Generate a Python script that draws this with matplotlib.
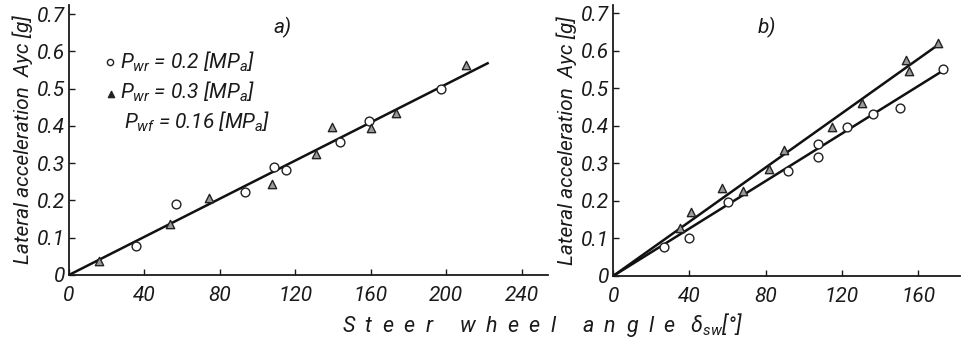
import matplotlib
matplotlib.use("Agg")
import matplotlib.pyplot as plt

# ---------------- data ----------------
a_circle_x = [35.5, 56.7, 93.6, 108.6, 115.3, 143.6, 159.0, 197.5]
a_circle_y = [0.078, 0.190, 0.223, 0.290, 0.281, 0.356, 0.414, 0.498]
a_tri_x = [15.9, 53.5, 74.2, 107.7, 130.9, 139.7, 160.0, 173.6, 210.3]
a_tri_y = [0.038, 0.137, 0.207, 0.243, 0.324, 0.396, 0.393, 0.434, 0.563]
a_line_x = [0, 222]
a_line_y = [0, 0.568]

b_circle_x = [26.9, 40.0, 60.5, 91.9, 107.3, 107.3, 122.5, 136.5, 150.5, 172.8]
b_circle_y = [0.078, 0.102, 0.196, 0.281, 0.352, 0.316, 0.397, 0.432, 0.449, 0.551]
b_tri_x = [35.1, 40.9, 57.1, 68.3, 81.8, 89.8, 115.0, 130.5, 153.4, 155.3, 170.7]
b_tri_y = [0.127, 0.170, 0.234, 0.227, 0.285, 0.336, 0.398, 0.462, 0.576, 0.547, 0.622]
b_line_tri_x = [0, 171]
b_line_tri_y = [0, 0.618]
b_line_circ_x = [0, 172.3]
b_line_circ_y = [0, 0.545]

y_ticks = [0, 0.1, 0.2, 0.3, 0.4, 0.5, 0.6, 0.7]
y_tick_labels = ["0", "0.1", "0.2", "0.3", "0.4", "0.5", "0.6", "0.7"]
a_x_ticks = [0, 40, 80, 120, 160, 200, 240]
b_x_ticks = [0, 40, 80, 120, 160]

# ---------------- fonts ----------------
fam = "Roboto"
plt.rcParams["font.family"] = [fam, "DejaVu Sans"]
plt.rcParams["font.style"] = "italic"
plt.rcParams["mathtext.fontset"] = "custom"
plt.rcParams["mathtext.rm"] = fam + ":italic"
plt.rcParams["mathtext.it"] = fam + ":italic"
plt.rcParams["mathtext.default"] = "it"

ink = "#1a1a1a"
fig = plt.figure(figsize=(9.61, 3.42), dpi=100)
axA = fig.add_axes([0.0718, 0.196, 0.4984, 0.789])
axB = fig.add_axes([0.638, 0.193, 0.361, 0.792])

tri_style = dict(marker="^", s=36, facecolor="#9a9a9a", edgecolor="#222222", linewidths=1.0, zorder=3)
circ_style = dict(marker="o", s=40, facecolor="white", edgecolor="#222222", linewidths=1.0, zorder=3)

for ax in (axA, axB):
    for s in ("top", "right"):
        ax.spines[s].set_visible(False)
    for s in ("left", "bottom"):
        ax.spines[s].set_linewidth(1.3)
        ax.spines[s].set_color(ink)
    ax.set_yticks(y_ticks)
    ax.set_yticklabels(y_tick_labels)
    ax.tick_params(direction="in", length=4, width=1, labelsize=15, colors=ink)
    ax.tick_params(axis="y", pad=3)
    ax.tick_params(axis="x", pad=8)
    ax.set_ylabel("Lateral acceleration  Ayc [g]", fontsize=15, labelpad=3, color=ink)

axA.plot(a_line_x, a_line_y, color="#111111", lw=1.8, zorder=2)
axA.scatter(a_circle_x, a_circle_y, **circ_style)
axA.scatter(a_tri_x, a_tri_y, **tri_style)
axA.set_xlim(0, 254)
axA.set_ylim(0, 0.724)
axA.set_xticks(a_x_ticks)
axA.text(0.426, 0.918, "a)", transform=axA.transAxes, fontsize=15, va="center", color=ink)

# legend
axA.scatter([22.0], [0.571], marker="o", s=20, facecolor="white", edgecolor="#222222", linewidths=1.0)
axA.scatter([22.4], [0.486], marker="^", s=20, facecolor="#222222", edgecolor="#222222")
axA.text(27, 0.571, r"$P_{wr}$ = 0.2 [$MP_a$]", fontsize=15, va="center", color=ink)
axA.text(27, 0.490, r"$P_{wr}$ = 0.3 [$MP_a$]", fontsize=15, va="center", color=ink)
axA.text(29, 0.410, r"$P_{wf}$ = 0.16 [$MP_a$]", fontsize=15, va="center", color=ink)

axB.plot(b_line_tri_x, b_line_tri_y, color="#111111", lw=1.8, zorder=2)
axB.plot(b_line_circ_x, b_line_circ_y, color="#111111", lw=1.8, zorder=2)
axB.scatter(b_circle_x, b_circle_y, **circ_style)
axB.scatter(b_tri_x, b_tri_y, **tri_style)
axB.set_xlim(0, 182)
axB.set_ylim(0, 0.722)
axB.set_xticks(b_x_ticks)
axB.text(0.418, 0.918, "b)", transform=axB.transAxes, fontsize=15, va="center", color=ink)

fig.text(0.564, 0.05, r"S  t  e  e  r     w  h  e  e  l     a  n  g  l  e   $\delta_{sw}$[°]",
         fontsize=15.5, ha="center", va="center", color=ink)

fig.savefig("out.png", dpi=100)
